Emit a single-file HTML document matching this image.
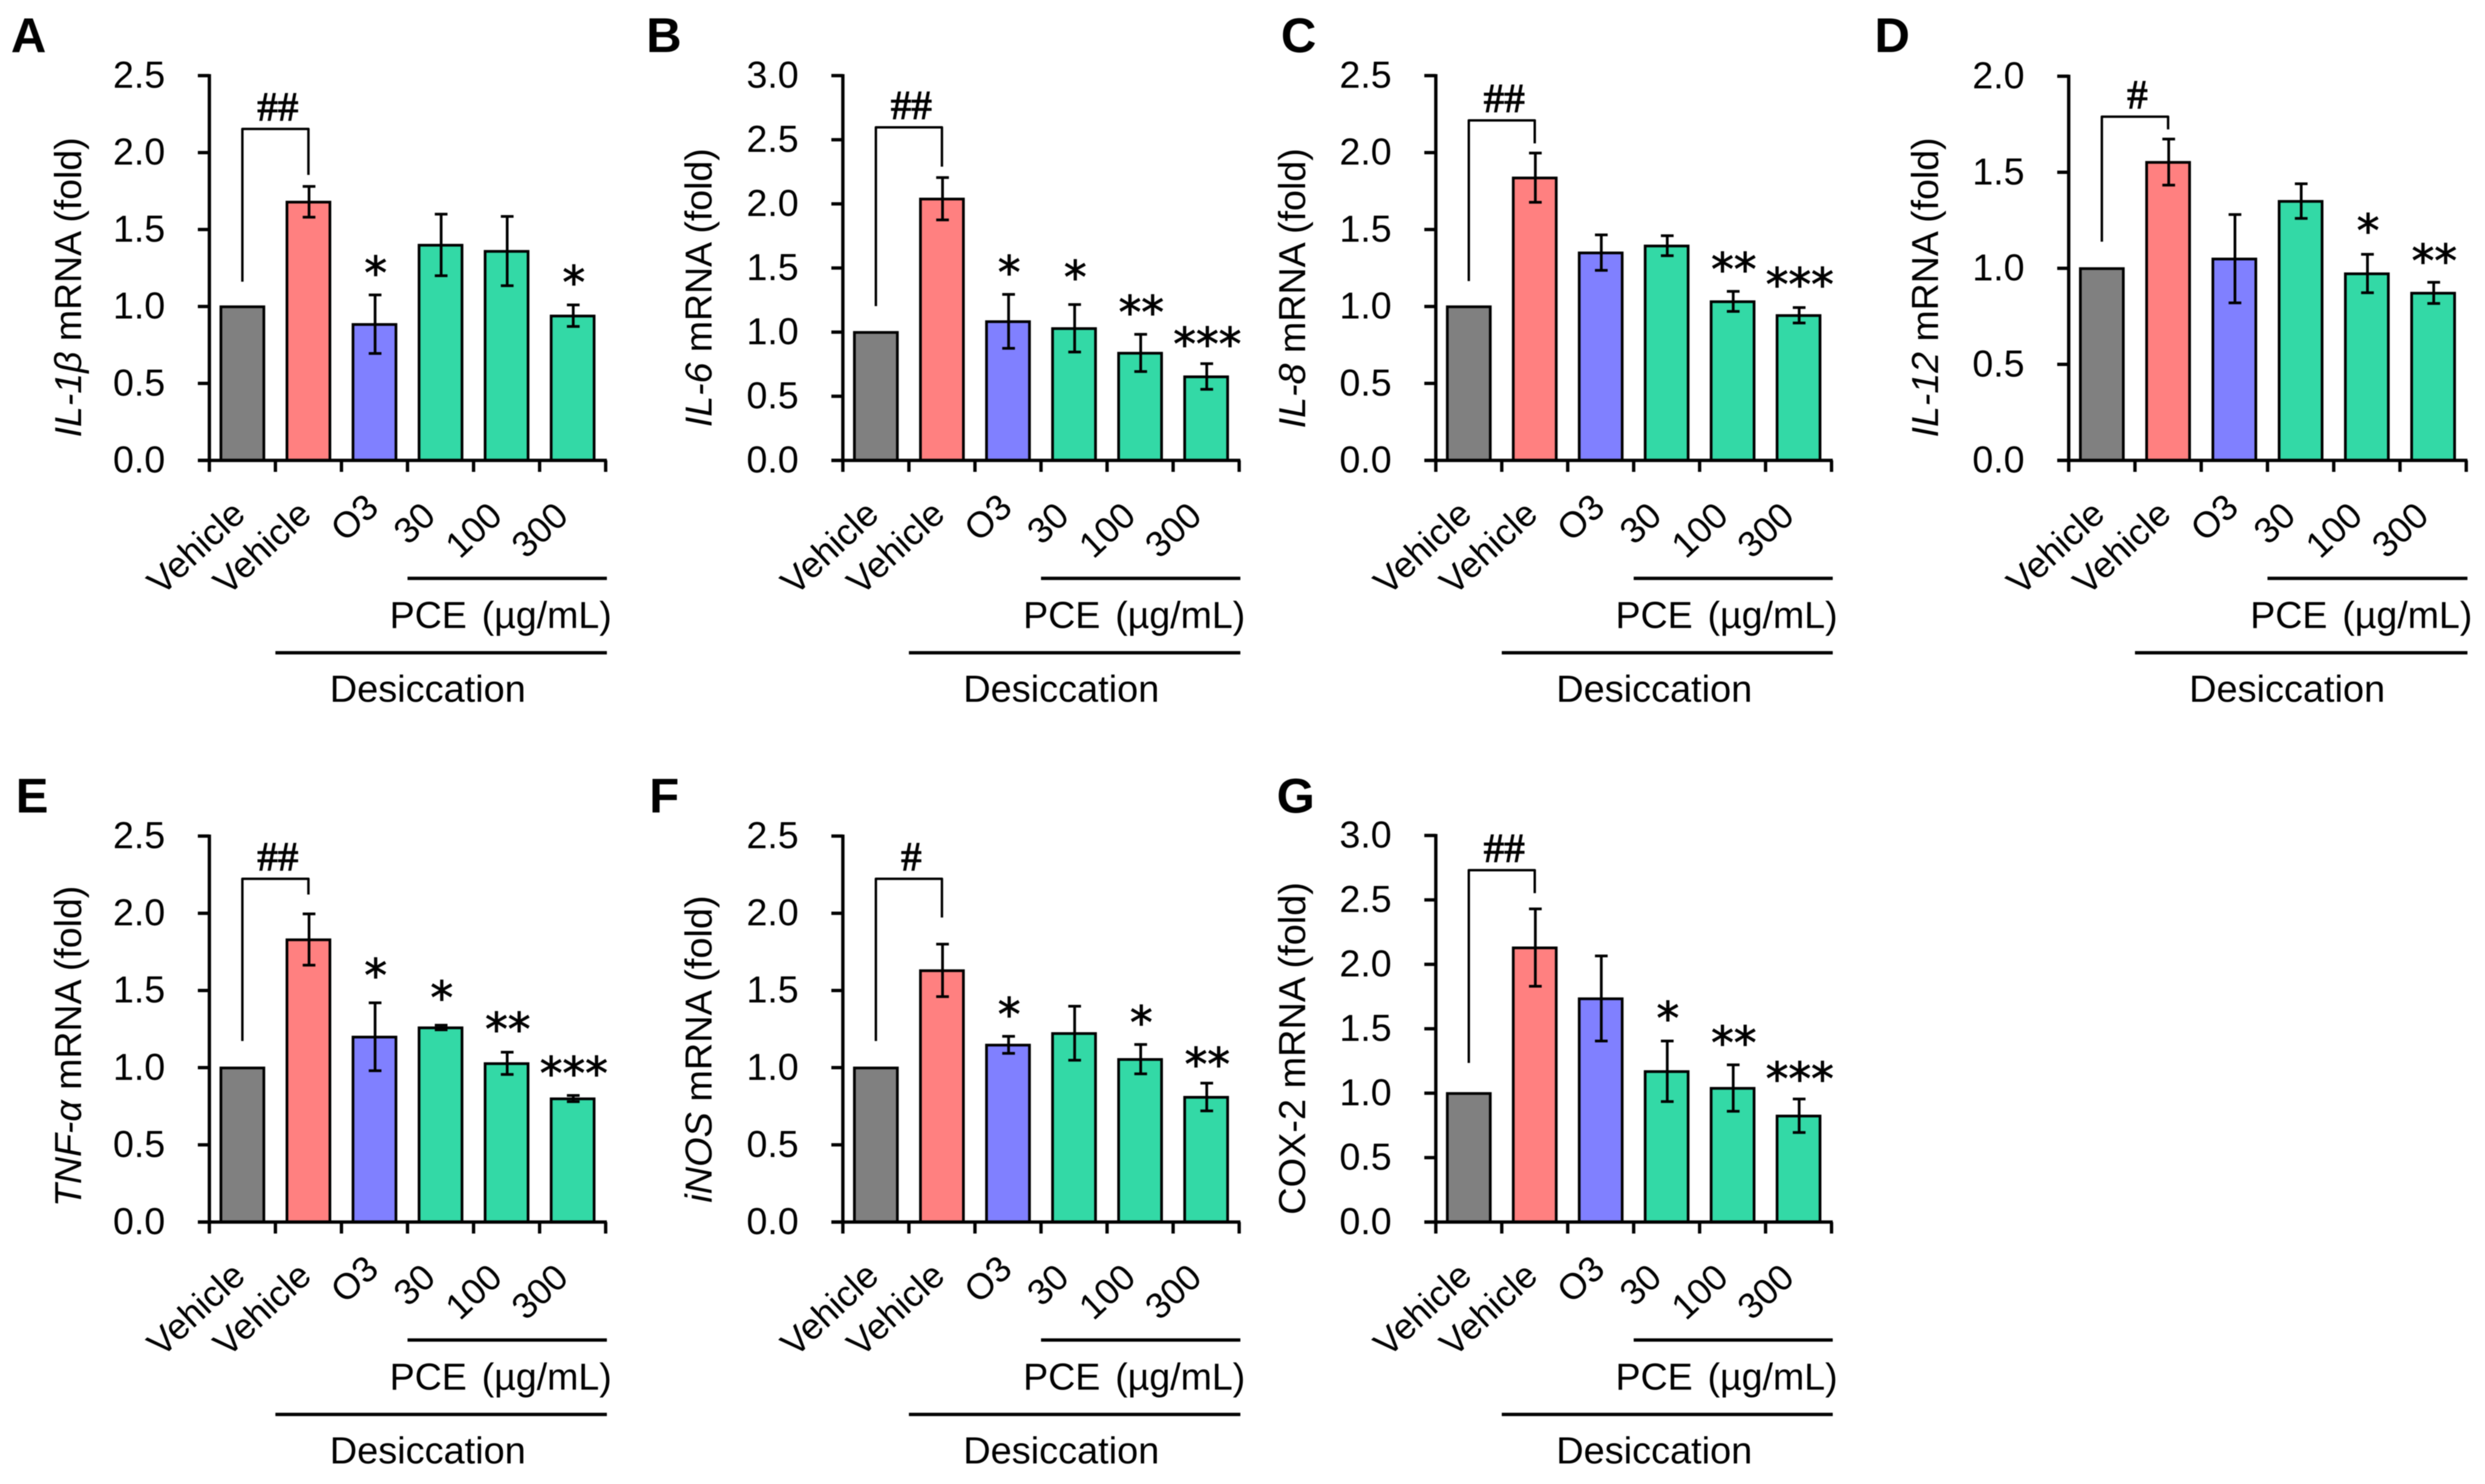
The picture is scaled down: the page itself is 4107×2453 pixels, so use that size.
<!DOCTYPE html>
<html lang="en">
<head>
<meta charset="utf-8">
<title>Inflammatory cytokine mRNA expression, panels A to G</title>
<style>
html,body{margin:0;padding:0;background:#fff;}
svg{display:block;filter:blur(0.8px);}
text{font-family:"Liberation Sans",Arial,sans-serif;fill:#000;}
</style>
</head>
<body>
<svg id="figure" xmlns="http://www.w3.org/2000/svg" width="4107" height="2453" viewBox="0 0 4107 2453"></svg>
<script>
// ---- chart data ----
const categories = ["Vehicle", "Vehicle", "O3", "30", "100", "300"];
const panelLetters = ["A", "B", "C", "D", "E", "F", "G"];

const ticksA = ["0.0", "0.5", "1.0", "1.5", "2.0", "2.5"];
const valuesA = [1.0, 1.68, 0.885, 1.40, 1.36, 0.94];
const errorsA = [0, 0.10, 0.19, 0.20, 0.225, 0.07];
const sigA = ["", "##", "*", "", "", "*"];

const ticksB = ["0.0", "0.5", "1.0", "1.5", "2.0", "2.5", "3.0"];
const valuesB = [1.0, 2.04, 1.084, 1.03, 0.838, 0.654];
const errorsB = [0, 0.165, 0.21, 0.185, 0.145, 0.10];
const sigB = ["", "##", "*", "*", "**", "***"];

const ticksC = ["0.0", "0.5", "1.0", "1.5", "2.0", "2.5"];
const valuesC = [1.0, 1.837, 1.35, 1.395, 1.033, 0.943];
const errorsC = [0, 0.16, 0.115, 0.065, 0.065, 0.05];
const sigC = ["", "##", "", "", "**", "***"];

const ticksD = ["0.0", "0.5", "1.0", "1.5", "2.0"];
const valuesD = [1.0, 1.553, 1.05, 1.35, 0.973, 0.872];
const errorsD = [0, 0.12, 0.23, 0.09, 0.10, 0.055];
const sigD = ["", "#", "", "", "*", "**"];

const ticksE = ["0.0", "0.5", "1.0", "1.5", "2.0", "2.5"];
const valuesE = [1.0, 1.83, 1.2, 1.26, 1.028, 0.80];
const errorsE = [0, 0.166, 0.22, 0.015, 0.072, 0.02];
const sigE = ["", "##", "*", "*", "**", "***"];

const ticksF = ["0.0", "0.5", "1.0", "1.5", "2.0", "2.5"];
const valuesF = [1.0, 1.63, 1.148, 1.223, 1.055, 0.81];
const errorsF = [0, 0.17, 0.055, 0.175, 0.095, 0.09];
const sigF = ["", "#", "*", "", "*", "**"];

const ticksG = ["0.0", "0.5", "1.0", "1.5", "2.0", "2.5", "3.0"];
const valuesG = [1.0, 2.13, 1.735, 1.17, 1.04, 0.825];
const errorsG = [0, 0.30, 0.33, 0.235, 0.18, 0.13];
const sigG = ["", "##", "", "*", "**", "***"];

const titleItalics = ["IL-1\u03B2", "IL-6", "IL-8", "IL-12", "TNF-\u03B1", "iNOS", ""];
const titleRomans = [" mRNA (fold)", " mRNA (fold)", " mRNA (fold)", " mRNA (fold)", " mRNA (fold)", " mRNA (fold)", "COX-2 mRNA (fold)"];
const concentrationGroupName = "PCE";
const concentrationGroupUnit = "(\u00B5g/mL)";
const treatmentGroupLabel = "Desiccation";

// ---- series wiring ----
const allTicks = [ticksA, ticksB, ticksC, ticksD, ticksE, ticksF, ticksG];
const allValues = [valuesA, valuesB, valuesC, valuesD, valuesE, valuesF, valuesG];
const allErrors = [errorsA, errorsB, errorsC, errorsD, errorsE, errorsF, errorsG];
const allSig = [sigA, sigB, sigC, sigD, sigE, sigF, sigG];

// ---- layout (pixels, no data) ----
const layouts = [
  {ox:346,  right:1001, top:125,  base:761,  titleX:134,  titleTop:227,  titleBottom:723,  letterX:18,   letterY:86,   lift:95,  drop:19, leftGap:41, starGap:[0,0,41,0,0,42]},
  {ox:1393, right:2048, top:125,  base:761,  titleX:1176, titleTop:245,  titleBottom:706,  letterX:1068, letterY:86,   lift:83,  drop:18, leftGap:43, starGap:[0,0,41,50,41,37]},
  {ox:2373, right:3027, top:125,  base:761,  titleX:2157, titleTop:245,  titleBottom:708,  letterX:2117, letterY:86,   lift:54,  drop:16, leftGap:42, starGap:[0,0,0,0,41,43]},
  {ox:3419, right:4076, top:126,  base:761,  titleX:3203, titleTop:227,  titleBottom:723,  letterX:3098, letterY:86,   lift:37,  drop:16, leftGap:44, starGap:[0,0,0,0,44,40]},
  {ox:346,  right:1001, top:1382, base:2020, titleX:134,  titleTop:1464, titleBottom:1995, letterX:26,   letterY:1343, lift:58,  drop:32, leftGap:44, starGap:[0,0,50,50,43,41]},
  {ox:1393, right:2048, top:1382, base:2020, titleX:1176, titleTop:1480, titleBottom:1988, letterX:1073, letterY:1343, lift:108, drop:44, leftGap:44, starGap:[0,0,41,0,41,36]},
  {ox:2373, right:3027, top:1381, base:2020, titleX:2157, titleTop:1458, titleBottom:2008, letterX:2110, letterY:1343, lift:64,  drop:26, leftGap:50, starGap:[0,0,0,42,41,38]}
];
const barFills = ["#808080", "#FF8080", "#8080FF", "#33D9A6", "#33D9A6", "#33D9A6"];
const labelShiftX = [8, 8, 10, -5, -4, -4];
const labelShiftY = [93, 93, 82, 96, 96, 96];

const NS = "http://www.w3.org/2000/svg";
const svg = document.getElementById("figure");

function make(tag, parent, attrs) {
  const node = document.createElementNS(NS, tag);
  for (const key in attrs) node.setAttribute(key, attrs[key]);
  parent.appendChild(node);
  return node;
}

function line(parent, x1, y1, x2, y2, width) {
  return make("line", parent, {x1: x1, y1: y1, x2: x2, y2: y2, stroke: "#000", "stroke-width": width});
}

function drawPanel(p) {
  const L = layouts[p];
  const ticks = allTicks[p];
  const values = allValues[p];
  const errors = allErrors[p];
  const sig = allSig[p];
  const key = panelLetters[p].toLowerCase();
  const yMax = parseFloat(ticks[ticks.length - 1]);
  const step = (L.right - L.ox) / categories.length;
  const xBand = function (i) { return L.ox + (i + 0.5) * step; };
  const xEdge = function (i) { return L.ox + i * step; };
  const yScale = function (v) { return L.base - (v / yMax) * (L.base - L.top); };

  const g = make("g", svg, {});
  
  

  const letter = make("text", g, {x: L.letterX, y: L.letterY, "font-size": 81, "font-weight": "bold"});
  letter.textContent = panelLetters[p];
  
  

  // bars
  values.forEach(function (v, i) {
    const top = yScale(v) + 0.5;
    const bar = make("rect", g, {x: xBand(i) - 35.5, y: top, width: 71, height: L.base - top, fill: barFills[i], stroke: "#000", "stroke-width": 4.5});
    
    
  });

  // error bars
  values.forEach(function (v, i) {
    if (!errors[i]) return;
    const cx = xBand(i) + 1;
    const eg = make("g", g, {});
    
    
    line(eg, cx, yScale(v + errors[i]), cx, yScale(v - errors[i]), 4.5);
    line(eg, cx - 10.5, yScale(v + errors[i]), cx + 10.5, yScale(v + errors[i]), 4.5);
    line(eg, cx - 10.5, yScale(v - errors[i]), cx + 10.5, yScale(v - errors[i]), 4.5);
  });

  // y axis
  const yAxis = make("g", g, {});
  
  
  line(yAxis, L.ox, L.top - 2.5, L.ox, L.base + 2, 5.5);
  ticks.forEach(function (t) {
    const yy = yScale(parseFloat(t));
    line(yAxis, L.ox - 19, yy, L.ox, yy, 5.5);
    const label = make("text", yAxis, {x: L.ox - 73, y: yy + 20, "font-size": 62, "text-anchor": "end"});
    label.textContent = t;
    
    
  });

  // x axis
  const xAxis = make("g", g, {});
  
  
  line(xAxis, L.ox - 19, L.base, L.right + 2, L.base, 5.5);
  categories.forEach(function (c, i) {
    line(xAxis, xEdge(i), L.base, xEdge(i), L.base + 19, 5.5);
    const ax = xBand(i) + labelShiftX[i];
    const ay = L.base + labelShiftY[i];
    const label = make("text", xAxis, {x: ax, y: ay, "font-size": 60, "text-anchor": "end", transform: "rotate(-43 " + ax + " " + ay + ")"});
    label.textContent = c;
    
    
  });
  line(xAxis, L.right, L.base, L.right, L.base + 19, 5.5);

  // y title
  const title = make("text", g, {"font-size": 62});
  
  
  if (titleItalics[p]) {
    const it = make("tspan", title, {"font-style": "italic"});
    it.textContent = titleItalics[p];
    
    
  }
  const rom = make("tspan", title, {});
  rom.textContent = titleRomans[p];
  
  
  const natural = title.getComputedTextLength();
  const target = L.titleBottom - L.titleTop;
  title.setAttribute("transform", "translate(" + L.titleX + " " + L.titleBottom + ") rotate(-90) scale(" + (target / natural) + " 1)");

  // group rules and labels
  const rule1 = line(g, xEdge(3), L.base + 195, L.right + 2, L.base + 195, 5.5);
  
  
  const pceName = make("text", g, {x: L.right - 357, y: L.base + 277, "font-size": 62});
  pceName.textContent = concentrationGroupName;
  
  
  const pceUnit = make("text", g, {x: L.right + 10, y: L.base + 277, "font-size": 62, "text-anchor": "end"});
  pceUnit.textContent = concentrationGroupUnit;
  
  
  const rule2 = line(g, xEdge(1), L.base + 318, L.right + 2, L.base + 318, 5.5);
  
  
  const des = make("text", g, {x: L.ox + 361, y: L.base + 399, "font-size": 62, "text-anchor": "middle", textLength: 324, lengthAdjust: "spacingAndGlyphs"});
  des.textContent = treatmentGroupLabel;
  
  

  // significance bracket: from control bar to model bar
  const capY = yScale(values[1] + errors[1]);
  const brTop = capY - L.lift;
  const bracket = make("path", g, {
    d: "M" + xBand(0) + " " + (yScale(values[0]) - L.leftGap) + " V" + brTop + " H" + xBand(1) + " V" + (capY - L.drop),
    fill: "none", stroke: "#000", "stroke-width": 4, "stroke-linejoin": "round"
  });
  
  
  const hash = make("text", g, {x: (xBand(0) + xBand(1)) / 2 + 4, y: brTop - 14, "font-size": 68, "text-anchor": "middle", stroke: "#000", "stroke-width": 1.6, "style": 'font-family:"Liberation Serif",serif'});
  hash.textContent = sig[1];
  
  

  // asterisks
  sig.forEach(function (s, i) {
    if (i < 2 || !s) return;
    const centre = yScale(values[i] + errors[i]) - L.starGap[i];
    const star = make("text", g, {x: xBand(i) + 2, y: centre + 31, "font-size": 75, "text-anchor": "middle", stroke: "#000", "stroke-width": 1.2, "style": 'font-family:"DejaVu Sans",sans-serif'});
    star.textContent = s;
    
    
  });
}

for (let p = 0; p < layouts.length; p++) drawPanel(p);
</script>
</body>
</html>
